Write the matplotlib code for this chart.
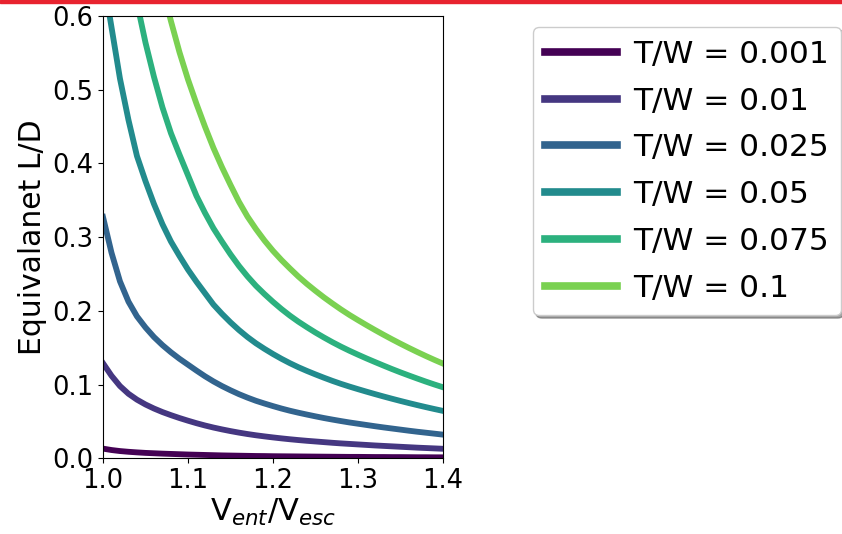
import numpy as np
import matplotlib
matplotlib.use('Agg')
import matplotlib.pyplot as plt
from matplotlib.patches import Rectangle

# velocity ratio samples (V_ent / V_esc)
v_ratio = [1.00, 1.01, 1.02, 1.03, 1.04, 1.05, 1.06, 1.07, 1.08, 1.09, 1.10,
           1.11, 1.12, 1.13, 1.14, 1.15, 1.16, 1.17, 1.18, 1.19, 1.20,
           1.21, 1.22, 1.23, 1.24, 1.25, 1.26, 1.27, 1.28, 1.29, 1.30,
           1.31, 1.32, 1.33, 1.34, 1.35, 1.36, 1.37, 1.38, 1.39, 1.40]

tw_labels = ['T/W = 0.001', 'T/W = 0.01', 'T/W = 0.025',
             'T/W = 0.05', 'T/W = 0.075', 'T/W = 0.1']

# equivalent L/D
ld_0001 = [0.0131, 0.0112, 0.0098, 0.0088, 0.0080, 0.0073, 0.0068, 0.0063, 0.0059, 0.0055, 0.0051,
           0.0048, 0.0045, 0.0042, 0.0039, 0.0037, 0.0035, 0.0033, 0.0031, 0.0030, 0.0028,
           0.0027, 0.0026, 0.0025, 0.0024, 0.0023, 0.0022, 0.0021, 0.0020, 0.0019, 0.0019,
           0.0018, 0.0017, 0.0017, 0.0016, 0.0016, 0.0015, 0.0014, 0.0014, 0.0013, 0.0013]
ld_001 = [0.129, 0.112, 0.098, 0.0875, 0.0795, 0.073, 0.0675, 0.0627, 0.0585, 0.0546, 0.051,
          0.0476, 0.0445, 0.0417, 0.0392, 0.0369, 0.0348, 0.0329, 0.0312, 0.0297, 0.0283,
          0.027, 0.0258, 0.0247, 0.0237, 0.0228, 0.0219, 0.021, 0.0202, 0.0195, 0.0188,
          0.0181, 0.0174, 0.0168, 0.0162, 0.0156, 0.015, 0.0144, 0.0139, 0.0134, 0.0129]
ld_0025 = [0.3275, 0.279, 0.240, 0.2125, 0.1925, 0.1775, 0.1645, 0.1535, 0.1438, 0.135, 0.127,
           0.119, 0.1113, 0.1043, 0.098, 0.0923, 0.087, 0.0823, 0.078, 0.0743, 0.0708,
           0.0675, 0.0645, 0.0618, 0.0593, 0.0569, 0.0546, 0.0525, 0.0505, 0.0486, 0.0469,
           0.0452, 0.0435, 0.0419, 0.0404, 0.0389, 0.0374, 0.036, 0.0347, 0.0334, 0.0321]
ld_005 = [0.655, 0.585, 0.515, 0.459, 0.410, 0.376, 0.345, 0.3175, 0.294, 0.2745, 0.256,
          0.2395, 0.224, 0.2085, 0.196, 0.1845, 0.174, 0.1645, 0.156, 0.1485, 0.1415,
          0.135, 0.129, 0.1235, 0.1185, 0.1138, 0.1093, 0.105, 0.101, 0.0973, 0.0938,
          0.0904, 0.0871, 0.0839, 0.0808, 0.0778, 0.0749, 0.0721, 0.0694, 0.0668, 0.0643]
ld_0075 = [0.9825, 0.8775, 0.7725, 0.6885, 0.618, 0.564, 0.5175, 0.476, 0.441, 0.412, 0.384,
           0.356, 0.333, 0.312, 0.294, 0.2768, 0.261, 0.2468, 0.234, 0.2228, 0.2123,
           0.2025, 0.1935, 0.1853, 0.1778, 0.1706, 0.1639, 0.1575, 0.1515, 0.1459, 0.1406,
           0.1355, 0.1306, 0.1258, 0.1211, 0.1166, 0.1123, 0.1081, 0.104, 0.1001, 0.0964]
ld_01 = [1.31, 1.13, 0.995, 0.89, 0.81, 0.745, 0.69, 0.638, 0.593, 0.551, 0.514,
         0.481, 0.450, 0.421, 0.395, 0.371, 0.348, 0.328, 0.311, 0.2955, 0.2815,
         0.2690, 0.2575, 0.2465, 0.2365, 0.2272, 0.2183, 0.21, 0.202, 0.1945, 0.1875,
         0.1807, 0.1741, 0.1677, 0.1615, 0.1555, 0.1497, 0.1441, 0.1387, 0.1335, 0.1285]

all_ld = [ld_0001, ld_001, ld_0025, ld_005, ld_0075, ld_01]
colors = plt.cm.viridis(np.linspace(0, 0.8, 6))

fig = plt.figure(figsize=(8.42, 5.34), dpi=100)
ax = fig.add_axes([0.1223, 0.1418, 0.4037, 0.8282])

for ld, lab, c in zip(all_ld, tw_labels, colors):
    ax.plot(v_ratio, ld, color=c, linewidth=4.2, label=lab)

ax.set_xlim(1.0, 1.4)
ax.set_ylim(0, 0.6)
ax.set_xticks([1.0, 1.1, 1.2, 1.3, 1.4])
ax.set_yticks([0.0, 0.1, 0.2, 0.3, 0.4, 0.5, 0.6])
ax.tick_params(labelsize=18.5)
ax.set_xlabel('V$_{ent}$/V$_{esc}$', fontsize=22, labelpad=2)
ax.set_ylabel('Equivalanet L/D', fontsize=21.5)

leg = ax.legend(loc='upper left', bbox_to_anchor=(0.633, 0.949),
                bbox_transform=fig.transFigure, borderaxespad=0,
                fontsize=22.5, shadow=True, handlelength=2.3, handletextpad=0.5,
                labelspacing=0.57)
for line in leg.get_lines():
    line.set_linewidth(5.5)

# red strip along the top edge
fig.patches.append(Rectangle((0, 0.994), 1, 0.006, transform=fig.transFigure,
                             color='#e8232f', zorder=10))

fig.savefig('out.png', dpi=100)
